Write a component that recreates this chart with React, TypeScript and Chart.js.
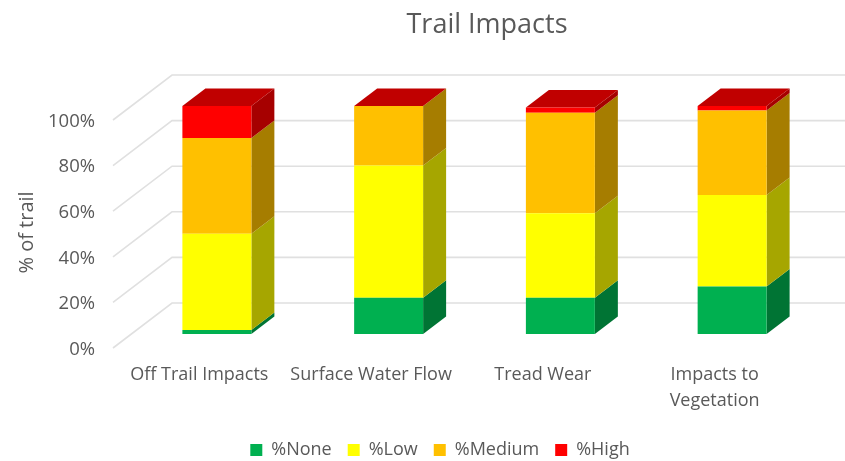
import React, { useEffect, useRef } from "react";
import { Chart, registerables } from "chart.js";

Chart.register(...registerables);

const categories = ["Off Trail Impacts", "Surface Water Flow", "Tread Wear", ["Impacts to", "Vegetation"]];
const pctNone = [1.8, 15.9, 15.9, 20.8];
const pctLow = [42.2, 58, 37.1, 40.2];
const pctMedium = [42, 26.1, 44, 37];
const pctHigh = [14, 0, 2.3, 2];
const seriesNames = ["%None", "%Low", "%Medium", "%High"];
const frontColors = ["#00B050", "#FFFF00", "#FFC000", "#FF0000"];
const sideColors = ["#007434", "#A6A600", "#A67D00", "#A60000"];
const topColor = "#C00000";
const gridColor = "#E0E0E0";
const textColor = "#595959";
const fontFamily = "'Open Sans', sans-serif";

const BAR_DX = 23;
const BAR_DY = 17.5;

const poly = (ctx: CanvasRenderingContext2D, pts: number[][], fill: string) => {
  ctx.beginPath();
  pts.forEach((p, i) => (i ? ctx.lineTo(p[0], p[1]) : ctx.moveTo(p[0], p[1])));
  ctx.closePath();
  ctx.fillStyle = fill;
  ctx.fill();
};

const wallsPlugin = {
  id: "walls3d",
  afterLayout(chart: any) {
    // Title and legend sit off the page centre in the reference.
    chart.titleBlock.left += 78;
    chart.titleBlock.right += 78;
    chart.legend.left += 31;
    chart.legend.right += 31;
    chart.legend.top += 8;
    chart.legend.bottom += 8;
    const y = chart.scales.y;
    if (!y._titleShifted) {
      const original = y.drawTitle;
      y.drawTitle = function () {
        this.ctx.save();
        this.ctx.translate(0, 12.5);
        original.call(this);
        this.ctx.restore();
      };
      y._titleShifted = true;
    }
  },
  beforeDatasetsDraw(chart: any) {
    const { ctx, scales, chartArea } = chart;
    const y = scales.y;
    ctx.save();
    ctx.strokeStyle = gridColor;
    ctx.lineWidth = 1.6;
    y.ticks.forEach((t: any) => {
      const py = y.getPixelForValue(t.value);
      ctx.beginPath();
      ctx.moveTo(chartArea.left - 18, py + 14);
      ctx.lineTo(chartArea.left + 41, py - 31);
      ctx.lineTo(chart.width, py - 31);
      ctx.stroke();
    });
    ctx.restore();
    // Side and top faces of each stacked segment.
    ctx.save();
    const last = chart.data.datasets.length - 1;
    chart.data.datasets.forEach((_: any, di: number) => {
      chart.getDatasetMeta(di).data.forEach((bar: any) => {
        const { x, y: top, base, width } = bar.getProps(["x", "y", "base", "width"], true);
        const r = x + width / 2;
        const l = x - width / 2;
        if (base - top > 0.01) {
          poly(ctx, [[r, top], [r + BAR_DX, top - BAR_DY], [r + BAR_DX, base - BAR_DY], [r, base]], sideColors[di]);
        }
        if (di === last) {
          poly(ctx, [[l, top], [l + BAR_DX, top - BAR_DY], [r + BAR_DX, top - BAR_DY], [r, top]], topColor);
        }
      });
    });
    ctx.restore();
  },
};

export default function App() {
  const ref = useRef<HTMLCanvasElement>(null);
  useEffect(() => {
    const values = [pctNone, pctLow, pctMedium, pctHigh];
    const chart = new Chart(ref.current!, {
      type: "bar",
      data: {
        labels: categories as any,
        datasets: seriesNames.map((label, i) => ({
          label,
          data: values[i],
          backgroundColor: frontColors[i],
          borderWidth: 0,
          barPercentage: 0.4016,
          categoryPercentage: 1,
        })),
      },
      plugins: [wallsPlugin],
      options: {
        animation: false,
        responsive: false,
        layout: { padding: { left: 0, right: 27, top: 0, bottom: 0 } },
        plugins: {
          title: {
            display: true,
            text: "Trail Impacts",
            color: textColor,
            font: { family: fontFamily, size: 27, weight: "normal" },
            padding: { top: 9, bottom: 64.6 },
          },
          legend: {
            position: "bottom",
            labels: {
              color: textColor,
              font: { family: fontFamily, size: 18 },
              boxWidth: 12,
              boxHeight: 12,
              padding: 16,
            },
          },
          tooltip: { enabled: false },
        },
        scales: {
          x: {
            stacked: true,
            grid: { display: false },
            border: { display: false },
            ticks: {
              color: textColor,
              font: { family: fontFamily, size: 18, lineHeight: 1.44 },
              padding: 20,
              labelOffset: -17.5,
              maxRotation: 0,
              autoSkip: false,
            },
            afterFit: (s: any) => {
              s.height = 83;
            },
          },
          y: {
            stacked: true,
            min: 0,
            max: 100,
            grid: { display: false },
            border: { display: false },
            title: {
              display: true,
              text: "% of trail",
              color: textColor,
              font: { family: fontFamily, size: 20 },
              padding: { top: 15, bottom: 0 },
            },
            ticks: {
              stepSize: 20,
              color: textColor,
              font: { family: fontFamily, size: 18.5 },
              padding: 28,
              labelOffset: 15.5,
              callback: (v: any) => v + "%",
            },
            afterFit: (s: any) => {
              s.width = 131;
            },
          },
        },
      } as any,
    });
    return () => chart.destroy();
  }, []);
  return (
    <div style={{ position: "fixed", left: 0, top: 0, width: 845, height: 461, background: "#fff" }}>
      <canvas ref={ref} width={845} height={461} style={{ display: "block" }} />
    </div>
  );
}
